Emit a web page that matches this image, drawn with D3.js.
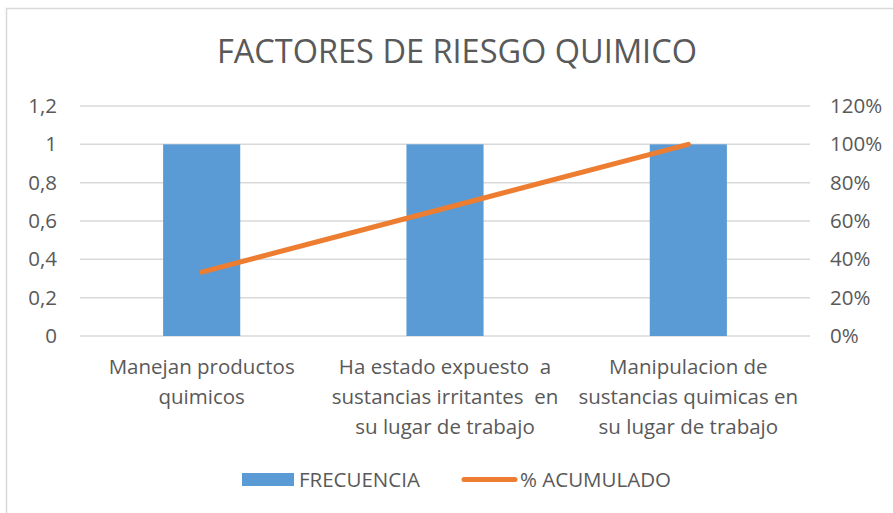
<!DOCTYPE html>
<html>
<head>
<meta charset="utf-8">
<script src="https://cdn.jsdelivr.net/npm/d3@7"></script>
<style>
  html, body { margin: 0; padding: 0; background: #fff; }
  svg { display: block; }
  text { font-family: "Open Sans", "Noto Sans", sans-serif; fill: #595959; white-space: pre; }
</style>
</head>
<body>
<svg id="chart" width="893" height="513"></svg>
<script>
const title = "FACTORES DE RIESGO QUIMICO";
const categories = [
  "Manejan productos\nquimicos",
  "Ha estado expuesto  a\nsustancias irritantes  en\nsu lugar de trabajo",
  "Manipulacion de\nsustancias quimicas en\nsu lugar de trabajo"
];
const frecuencia = [1, 1, 1];
const acumulado = [0.3333, 0.6667, 1.0];
const leftTicks = [0, 0.2, 0.4, 0.6, 0.8, 1, 1.2];
const rightTicks = [0, 0.2, 0.4, 0.6, 0.8, 1, 1.2];
const seriesNames = ["FRECUENCIA", "% ACUMULADO"];

const svg = d3.select("#chart");
const W = 893, H = 513;
const m = { left: 80, right: 83, top: 106, bottom: 177 };
const pw = W - m.left - m.right;
const ph = H - m.top - m.bottom;
const fs = 20.5;

// chart border
svg.append("rect").attr("x", 6.5).attr("y", 8.5).attr("width", 900).attr("height", 520)
  .attr("fill", "none").attr("stroke", "#d9d9d9").attr("stroke-width", 1.5);

const g = svg.append("g").attr("transform", `translate(${m.left},${m.top})`);

const x = d3.scaleBand().domain(categories).range([0, pw]).paddingInner(0.683).paddingOuter(0.3415);
const y = d3.scaleLinear().domain([0, 1.2]).range([ph, 0]);
const y2 = d3.scaleLinear().domain([0, 1.2]).range([ph, 0]);
const xc = d3.scalePoint().domain(categories).range([0, pw]).padding(0.5);

// gridlines
g.append("g").selectAll("line").data(leftTicks).join("line")
  .attr("x1", 0).attr("x2", pw)
  .attr("y1", d => y(d)).attr("y2", d => y(d))
  .attr("stroke", "#d9d9d9").attr("stroke-width", 1.5);

// left axis
const fmtL = d => d3.format(".1~f")(d).replace(".", ",");
const yAxis = d3.axisLeft(y).tickValues(leftTicks).tickFormat(fmtL).tickSize(0).tickPadding(23);
const gl = g.append("g").call(yAxis);
gl.select(".domain").remove();
gl.selectAll("text").attr("font-size", fs).attr("fill", "#595959")
  .style("font-family", '"Open Sans", sans-serif');

// right axis
const yAxisR = d3.axisRight(y2).tickValues(rightTicks).tickFormat(d3.format(".0%")).tickSize(0).tickPadding(20);
const gr = g.append("g").attr("transform", `translate(${pw},0)`).call(yAxisR);
gr.select(".domain").remove();
gr.selectAll("text").attr("font-size", fs).attr("fill", "#595959")
  .style("font-family", '"Open Sans", sans-serif');

// bars
g.append("g").selectAll("rect").data(frecuencia).join("rect")
  .attr("x", (d, i) => x(categories[i]))
  .attr("width", x.bandwidth())
  .attr("y", d => y(d))
  .attr("height", d => ph - y(d))
  .attr("fill", "#5b9bd5");

// line
const line = d3.line().x((d, i) => xc(categories[i])).y(d => y2(d));
g.append("path").datum(acumulado).attr("d", line)
  .attr("fill", "none").attr("stroke", "#ed7d31").attr("stroke-width", 5)
  .attr("stroke-linecap", "round").attr("stroke-linejoin", "round");

// category labels
const cl = g.append("g").selectAll("text").data(categories).join("text")
  .attr("text-anchor", "middle")
  .attr("font-size", fs)
  .attr("transform", d => `translate(${xc(d)},${ph + 38})`);
cl.selectAll("tspan").data(d => d.split("\n")).join("tspan")
  .attr("x", 0).attr("y", (d, i) => i * 30).text(d => d);

// title
svg.append("text").attr("x", 457).attr("y", 63).attr("text-anchor", "middle")
  .attr("font-size", 32.5).text(title);

// legend
const lg = svg.append("g");
lg.append("rect").attr("x", 242).attr("y", 473).attr("width", 52).attr("height", 13).attr("fill", "#5b9bd5");
lg.append("text").attr("x", 299).attr("y", 487).attr("font-size", fs).text(seriesNames[0]);
lg.append("line").attr("x1", 464).attr("x2", 515).attr("y1", 479.5).attr("y2", 479.5)
  .attr("stroke", "#ed7d31").attr("stroke-width", 5).attr("stroke-linecap", "round");
lg.append("text").attr("x", 520).attr("y", 487).attr("font-size", fs).text(seriesNames[1]);
</script>
</body>
</html>
